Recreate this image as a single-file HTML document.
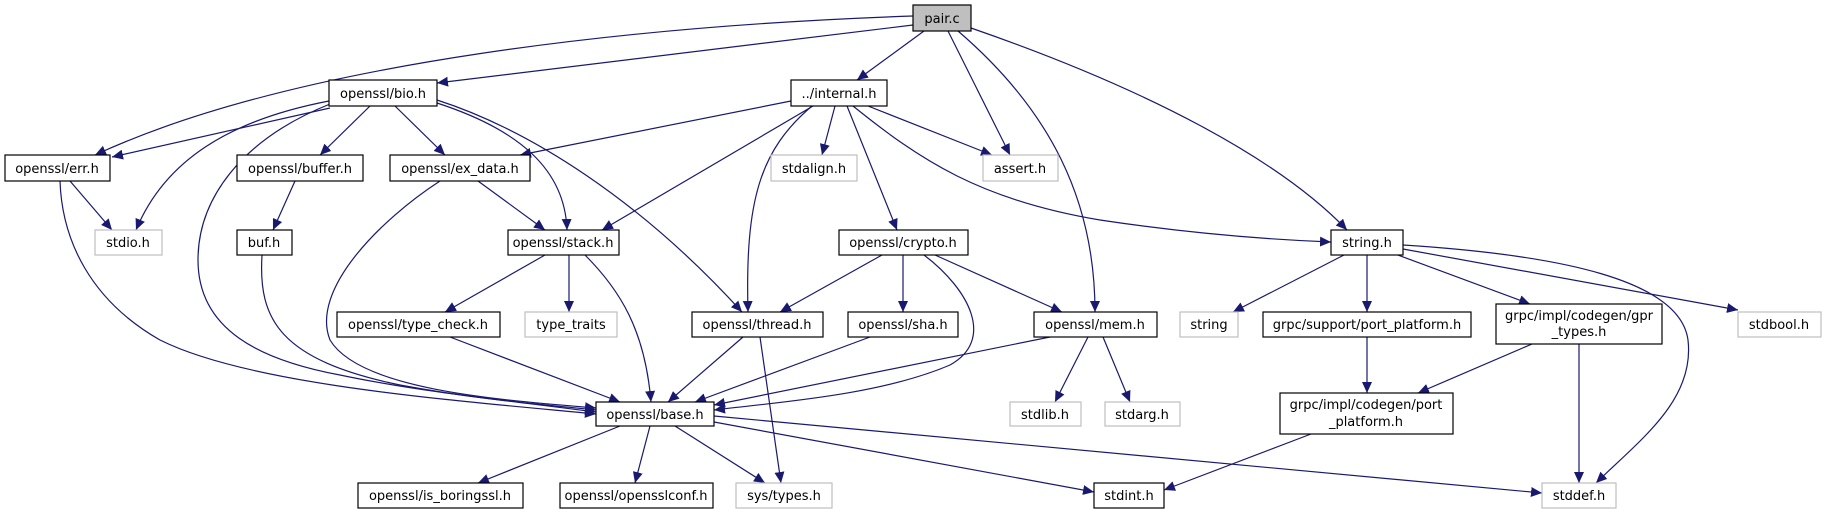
<!DOCTYPE html>
<html><head><meta charset="utf-8"><style>
html,body{margin:0;padding:0;background:#fff;}
svg{display:block;}
text{font-family:"DejaVu Sans","Liberation Sans",sans-serif;font-size:13px;fill:#000;text-anchor:middle;}
.n{fill:#fff;stroke:#000;stroke-width:1.2;}
.g{fill:#fff;stroke:#bfbfbf;stroke-width:1.2;}
.e{fill:none;stroke:#191970;stroke-width:1.2;marker-end:url(#a);}
</style></head><body>
<svg width="1826" height="515" viewBox="0 0 1826 515" xmlns="http://www.w3.org/2000/svg">
<defs><marker id="a" markerUnits="userSpaceOnUse" markerWidth="12" markerHeight="10" refX="11" refY="5" orient="auto"><path d="M0,0 L11,5 L0,10 z" fill="#191970"/></marker></defs>
<!-- edges -->
<path class="e" d="M913,16 C650,25 300,60 95,155"/>
<path class="e" d="M913,25 L437,83"/>
<path class="e" d="M924,31 L857,80"/>
<path class="e" d="M948,31 L1010,155"/>
<path class="e" d="M958,31 C1050,110 1095,200 1095,312"/>
<path class="e" d="M971,28 C1150,90 1280,160 1347,230"/>
<path class="e" d="M330,108 L112,157"/>
<path class="e" d="M329,101 C230,120 165,160 136,230"/>
<path class="e" d="M330,104 C240,140 198,200 198,260 C198,330 260,360 340,375 C420,392 520,402 596,412"/>
<path class="e" d="M370,106 L320,155"/>
<path class="e" d="M395,106 L445,155"/>
<path class="e" d="M437,103 C520,130 565,170 567,230"/>
<path class="e" d="M437,100 C530,130 640,200 742,312"/>
<path class="e" d="M70,181 L112,230"/>
<path class="e" d="M60,181 C62,240 90,300 160,340 C250,385 450,400 596,414"/>
<path class="e" d="M295,181 L273,230"/>
<path class="e" d="M262,255 C258,320 280,360 400,385 C480,400 550,405 596,410"/>
<path class="e" d="M478,181 L545,230"/>
<path class="e" d="M440,181 C380,220 310,290 330,340 C360,390 500,400 596,408"/>
<path class="e" d="M791,101 L520,155"/>
<path class="e" d="M813,106 L602,230"/>
<path class="e" d="M812,106 C760,150 745,200 748,312"/>
<path class="e" d="M835,106 L822,155"/>
<path class="e" d="M847,106 L897,230"/>
<path class="e" d="M868,106 L992,155"/>
<path class="e" d="M853,106 C920,160 980,200 1100,220 C1200,235 1280,240 1331,242"/>
<path class="e" d="M545,255 L445,312"/>
<path class="e" d="M569,255 L569,312"/>
<path class="e" d="M585,255 C620,290 645,330 651,402"/>
<path class="e" d="M882,255 L780,312"/>
<path class="e" d="M903,255 L903,312"/>
<path class="e" d="M924,255 C970,290 995,340 950,365 C880,395 780,402 714,410"/>
<path class="e" d="M935,255 L1062,312"/>
<path class="e" d="M1050,337 L714,405"/>
<path class="e" d="M1088,337 L1055,402"/>
<path class="e" d="M1103,337 L1130,402"/>
<path class="e" d="M743,337 L668,402"/>
<path class="e" d="M760,337 L781,483"/>
<path class="e" d="M870,337 L695,402"/>
<path class="e" d="M450,337 L620,402"/>
<path class="e" d="M620,426 L478,483"/>
<path class="e" d="M650,426 L635,483"/>
<path class="e" d="M675,426 L765,483"/>
<path class="e" d="M714,422 L1094,492"/>
<path class="e" d="M714,416 L1542,493"/>
<path class="e" d="M1344,255 L1233,312"/>
<path class="e" d="M1367,255 L1367,312"/>
<path class="e" d="M1398,255 L1530,304"/>
<path class="e" d="M1403,249 L1738,310"/>
<path class="e" d="M1403,245 C1560,255 1680,280 1688,340 C1695,400 1640,440 1596,483"/>
<path class="e" d="M1311,434 L1164,490"/>
<path class="e" d="M1367,337 L1367,393"/>
<path class="e" d="M1532,344 L1418,393"/>
<path class="e" d="M1579,344 L1579,483"/>
<!-- nodes -->
<rect x="913" y="5" width="58" height="26" fill="#bfbfbf" stroke="#000" stroke-width="1.2"/><text x="942" y="23">pair.c</text>
<rect class="n" x="329" y="80" width="108" height="26"/><text x="383" y="98">openssl/bio.h</text>
<rect class="n" x="791" y="80" width="96" height="26"/><text x="839" y="98">../internal.h</text>
<rect class="n" x="5" y="155" width="105" height="26"/><text x="57" y="173">openssl/err.h</text>
<rect class="n" x="237" y="155" width="126" height="26"/><text x="300" y="173">openssl/buffer.h</text>
<rect class="n" x="390" y="155" width="140" height="26"/><text x="460" y="173">openssl/ex_data.h</text>
<rect class="g" x="771" y="155" width="86" height="26"/><text x="814" y="173">stdalign.h</text>
<rect class="g" x="983" y="155" width="75" height="26"/><text x="1020" y="173">assert.h</text>
<rect class="g" x="95" y="230" width="67" height="25"/><text x="128" y="247">stdio.h</text>
<rect class="n" x="237" y="230" width="55" height="25"/><text x="264" y="247">buf.h</text>
<rect class="n" x="508" y="230" width="111" height="25"/><text x="563" y="247">openssl/stack.h</text>
<rect class="n" x="839" y="230" width="129" height="25"/><text x="903" y="247">openssl/crypto.h</text>
<rect class="n" x="1331" y="230" width="72" height="25"/><text x="1367" y="247">string.h</text>
<rect class="n" x="337" y="312" width="163" height="25"/><text x="418" y="329">openssl/type_check.h</text>
<rect class="g" x="525" y="312" width="92" height="25"/><text x="571" y="329">type_traits</text>
<rect class="n" x="692" y="312" width="131" height="25"/><text x="757" y="329">openssl/thread.h</text>
<rect class="n" x="848" y="312" width="110" height="25"/><text x="903" y="329">openssl/sha.h</text>
<rect class="n" x="1034" y="312" width="123" height="25"/><text x="1095" y="329">openssl/mem.h</text>
<rect class="g" x="1180" y="312" width="58" height="25"/><text x="1209" y="329">string</text>
<rect class="n" x="1263" y="312" width="208" height="25"/><text x="1367" y="329">grpc/support/port_platform.h</text>
<rect class="n" x="1496" y="304" width="166" height="40"/><text x="1579" y="320">grpc/impl/codegen/gpr</text><text x="1579" y="336">_types.h</text>
<rect class="g" x="1738" y="312" width="83" height="25"/><text x="1779" y="329">stdbool.h</text>
<rect class="n" x="596" y="402" width="118" height="24"/><text x="655" y="419">openssl/base.h</text>
<rect class="g" x="1010" y="402" width="71" height="24"/><text x="1045" y="419">stdlib.h</text>
<rect class="g" x="1105" y="402" width="75" height="24"/><text x="1142" y="419">stdarg.h</text>
<rect class="n" x="1280" y="393" width="173" height="41"/><text x="1366" y="409">grpc/impl/codegen/port</text><text x="1366" y="426">_platform.h</text>
<rect class="n" x="358" y="483" width="165" height="25"/><text x="440" y="500">openssl/is_boringssl.h</text>
<rect class="n" x="560" y="483" width="153" height="25"/><text x="636" y="500">openssl/opensslconf.h</text>
<rect class="g" x="736" y="483" width="96" height="25"/><text x="784" y="500">sys/types.h</text>
<rect class="n" x="1094" y="483" width="70" height="25"/><text x="1129" y="500">stdint.h</text>
<rect class="g" x="1542" y="483" width="74" height="25"/><text x="1579" y="500">stddef.h</text>
</svg>
</body></html>
